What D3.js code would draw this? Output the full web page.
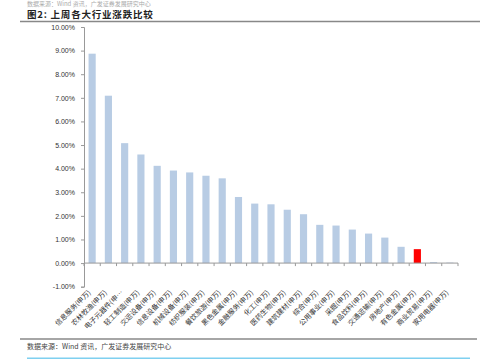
<!DOCTYPE html>
<html><head><meta charset="utf-8">
<script src="https://cdn.jsdelivr.net/npm/d3@7"></script>
<style>body{margin:0;background:#fff;}svg{display:block;}</style>
</head><body>
<svg id="c" width="499" height="359"></svg>
<script>
const categories = ["信息服务(申万)","农林牧渔(申万)","电子元器件(申…","轻工制造(申万)","交运设备(申万)","信息设备(申万)","机械设备(申万)","纺织服装(申万)","餐饮旅游(申万)","黑色金属(申万)","金融服务(申万)","化工(申万)","医药生物(申万)","建筑建材(申万)","综合(申万)","公用事业(申万)","采掘(申万)","食品饮料(申万)","交通运输(申万)","房地产(申万)","有色金属(申万)","商业贸易(申万)","家用电器(申万)"];
const values = [8.87,7.09,5.08,4.60,4.12,3.92,3.84,3.70,3.59,2.80,2.52,2.49,2.26,2.07,1.62,1.59,1.42,1.25,1.08,0.69,0.59,0.04,0.02];
const highlight = "有色金属(申万)";
const yTicks = [-1,0,1,2,3,4,5,6,7,8,9,10];

const svg = d3.select("#c");
const font = "'Noto Sans CJK SC', sans-serif";

// top source line (cut off in original)
svg.append("text").attr("x",27).attr("y",6).attr("font-family",font).attr("font-size",6).attr("fill","#aaa")
  .text("数据来源：Wind 资讯，广发证券发展研究中心");
// title
svg.append("text").attr("x",27).attr("y",18).attr("font-family",font).attr("font-size",9.5).attr("font-weight","bold").attr("fill","#222")
  .attr("letter-spacing",0.8)
  .text("图2:  上周各大行业涨跌比较");
svg.append("line").attr("x1",20).attr("x2",480).attr("y1",21.5).attr("y2",21.5).attr("stroke","#888").attr("stroke-width",1.5);

const x = d3.scaleBand().domain(categories).range([84,458]).paddingInner(0.56).paddingOuter(0.28);
const y = d3.scaleLinear().domain([-1,10]).range([286.7,27]);

// y axis
const ya = svg.append("g").attr("transform","translate(84,0)")
  .call(d3.axisLeft(y).tickValues(yTicks).tickSize(3).tickFormat(d=>d.toFixed(2)+"%"));
ya.select(".domain").attr("stroke","#999");
ya.selectAll(".tick line").attr("stroke","#999");
ya.selectAll(".tick text").attr("font-family","Arial, 'Liberation Sans', sans-serif").attr("font-size",7).attr("fill","#333").attr("dx",-3);

// bars
svg.append("g").selectAll("rect").data(categories).join("rect")
  .attr("x",d=>x(d)).attr("width",x.bandwidth())
  .attr("y",(d,i)=>y(Math.max(0,values[i]))).attr("height",(d,i)=>Math.abs(y(values[i])-y(0)))
  .attr("fill",d=>d===highlight?"#ff0000":"#b8cce4");

// x axis at zero
const xg = svg.append("g");
xg.append("line").attr("x1",84).attr("x2",458).attr("y1",y(0)).attr("y2",y(0)).attr("stroke","#999");
const bounds = d3.range(categories.length+1).map(i=>84+i*(374/categories.length));
xg.selectAll("line.t").data(bounds).join("line").attr("class","t")
  .attr("x1",d=>d).attr("x2",d=>d).attr("y1",y(0)).attr("y2",y(0)+3).attr("stroke","#999");

// x labels rotated
svg.append("g").selectAll("text").data(categories).join("text")
  .attr("transform",d=>`translate(${x(d)+x.bandwidth()/2-1},${y(0)+30}) rotate(-45)`)
  .attr("text-anchor","end").attr("font-family",font).attr("font-size",7).attr("fill","#333")
  .text(d=>d);

// bottom line and source
svg.append("line").attr("x1",20).attr("x2",477).attr("y1",339).attr("y2",339).attr("stroke","#888").attr("stroke-width",1.5);
svg.append("text").attr("x",27).attr("y",349).attr("font-family",font).attr("font-size",7).attr("fill","#444")
  .text("数据来源：Wind 资讯，广发证券发展研究中心");
svg.append("line").attr("x1",27).attr("x2",470).attr("y1",358.5).attr("y2",358.5).attr("stroke","#7fd0f0").attr("stroke-width",2);
</script>
</body></html>
